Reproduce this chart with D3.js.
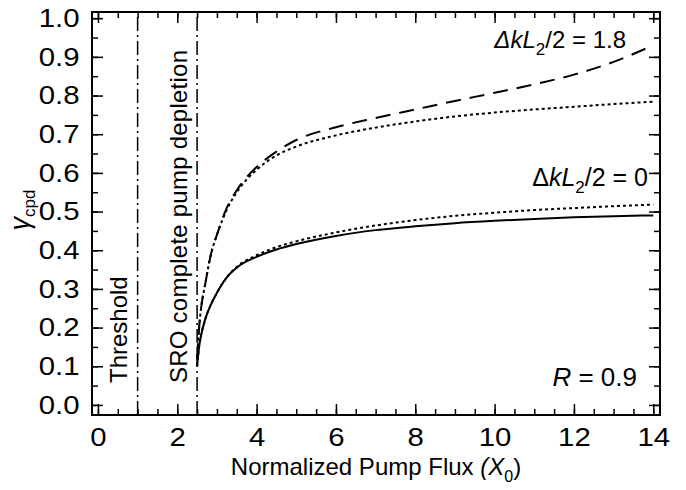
<!DOCTYPE html>
<html>
<head>
<meta charset="utf-8">
<script src="https://cdn.jsdelivr.net/npm/d3@7"></script>
<style>
  body { margin: 0; background: #fff; }
  svg { font-family: "Liberation Sans", Arial, sans-serif; }
</style>
</head>
<body>
<svg id="chart" width="686" height="490"></svg>
<script>
// pump flux values along each curve
const fluxX = [2.5, 2.55, 2.6, 2.7, 2.85, 3.0, 3.25, 3.5, 4, 4.5, 5, 6, 7, 8, 9, 10, 11, 12, 13, 14];
// dk = 0, full model (solid) and approximation (dotted)
const dk0Full   = [0.10, 0.15, 0.18, 0.22, 0.26, 0.29, 0.33, 0.355, 0.383, 0.402, 0.416, 0.437, 0.452, 0.462, 0.47, 0.476, 0.481, 0.485, 0.488, 0.49];
const dk0Approx = [0.10, 0.15, 0.18, 0.22, 0.26, 0.29, 0.33, 0.357, 0.387, 0.408, 0.423, 0.446, 0.464, 0.478, 0.489, 0.497, 0.504, 0.509, 0.514, 0.518];
// dk = 1.8, full model (dashed) and approximation (dotted)
const dk18Full   = [0.12, 0.2, 0.25, 0.31, 0.39, 0.44, 0.51, 0.555, 0.615, 0.655, 0.685, 0.718, 0.742, 0.764, 0.786, 0.807, 0.829, 0.854, 0.887, 0.93];
const dk18Approx = [0.12, 0.2, 0.25, 0.31, 0.39, 0.44, 0.505, 0.55, 0.608, 0.645, 0.668, 0.697, 0.717, 0.733, 0.746, 0.756, 0.764, 0.771, 0.778, 0.784];

const xMajor = [0, 2, 4, 6, 8, 10, 12, 14];
const xMinor = d3.range(0, 14.01, 0.5);
const yMajor = [0, 0.1, 0.2, 0.3, 0.4, 0.5, 0.6, 0.7, 0.8, 0.9, 1.0];
const yMinor = d3.range(0, 1.001, 0.05);
const markers = [1, 2.5]; // threshold, SRO complete pump depletion

const svg = d3.select("#chart");
const pLeft = 92, pRight = 660, pTop = 12, pBottom = 415;

const x = d3.scaleLinear().domain([-0.15, 14.17]).range([pLeft, pRight]);
const y = d3.scaleLinear().domain([-0.026, 1.016]).range([pBottom, pTop]);

// axes: ticks point inward on all four sides
function tickAxis(axisFn, scale, vals, size, pos, labels, pad) {
  const a = axisFn(scale).tickValues(vals).tickSize(-size).tickSizeOuter(0);
  if (!labels) a.tickFormat("");
  else a.tickFormat(labels).tickPadding(pad);
  const g = svg.append("g").attr("transform", pos).call(a);
  g.select(".domain").remove();
  g.selectAll("line").attr("stroke", "#000").attr("stroke-width", 1.5);
  // tick labels in the original are a little wider than Arial
  g.selectAll("text").attr("fill", "#000")
    .attr("transform", "scale(1.13,1)")
    .style("font-family", "'Liberation Sans', Arial, sans-serif")
    .style("font-size", "26px");
  return g;
}

tickAxis(d3.axisBottom, x, xMinor, 6, `translate(0,${pBottom})`);
tickAxis(d3.axisBottom, x, xMajor, 11, `translate(0,${pBottom})`, d3.format("d"), 13);
tickAxis(d3.axisTop, x, xMinor, 6, `translate(0,${pTop})`);
tickAxis(d3.axisTop, x, xMajor, 11, `translate(0,${pTop})`);
tickAxis(d3.axisLeft, y, yMinor, 6, `translate(${pLeft},0)`);
tickAxis(d3.axisLeft, y, yMajor, 11, `translate(${pLeft},0)`, d3.format(".1f"), 11);
tickAxis(d3.axisRight, y, yMinor, 6, `translate(${pRight},0)`);
tickAxis(d3.axisRight, y, yMajor, 11, `translate(${pRight},0)`);

svg.append("rect")
  .attr("x", pLeft).attr("y", pTop)
  .attr("width", pRight - pLeft).attr("height", pBottom - pTop)
  .attr("fill", "none").attr("stroke", "#000").attr("stroke-width", 2);

// vertical dash-dot markers
svg.selectAll(".marker")
  .data(markers)
  .join("line")
  .attr("class", "marker")
  .attr("x1", d => x(d)).attr("x2", d => x(d))
  .attr("y1", pBottom).attr("y2", pTop)
  .attr("stroke", "#000").attr("stroke-width", 1.5)
  .attr("stroke-dasharray", "14,4,2,4");

// curves
const line = d3.line()
  .x(d => x(d[0]))
  .y(d => y(d[1]))
  .curve(d3.curveMonotoneX);

const series = [
  {vals: dk0Full, dash: null},
  {vals: dk0Approx, dash: "3,3"},
  {vals: dk18Full, dash: "15,9"},
  {vals: dk18Approx, dash: "3,3"}
];

svg.selectAll(".curve")
  .data(series)
  .join("path")
  .attr("class", "curve")
  .attr("d", s => line(fluxX.map((v, i) => [v, s.vals[i]])))
  .attr("fill", "none")
  .attr("stroke", "#000")
  .attr("stroke-width", 2)
  .attr("stroke-dasharray", s => s.dash);

// rotated marker labels
svg.append("text")
  .attr("transform", `translate(127,383) rotate(-90)`)
  .style("font-size", "24px")
  .text("Threshold");

svg.append("text")
  .attr("transform", `translate(187,383) rotate(-90)`)
  .style("font-size", "24px")
  .attr("textLength", 333)
  .text("SRO complete pump depletion");

// curve annotations
function dkLabel(xPos, yPos, value, italicDelta, size) {
  const t = svg.append("text")
    .attr("x", xPos).attr("y", yPos)
    .attr("text-anchor", "end")
    .style("font-size", size + "px");
  t.append("tspan").style("font-style", italicDelta ? "italic" : "normal").text("\u0394");
  t.append("tspan").style("font-style", "italic").text("kL");
  t.append("tspan").attr("dy", 7).style("font-size", "17px").text("2");
  t.append("tspan").attr("dy", -7).text("/2 = " + value);
}
dkLabel(626, 48, "1.8", true, 24);
dkLabel(648, 186, "0", false, 25);

const rText = svg.append("text")
  .attr("x", 637).attr("y", 386)
  .attr("text-anchor", "end")
  .style("font-size", "26px");
rText.append("tspan").style("font-style", "italic").text("R");
rText.append("tspan").text(" = 0.9");

// axis titles
const xt = svg.append("text")
  .attr("x", 376).attr("y", 475)
  .attr("text-anchor", "middle")
  .style("font-size", "24px");
xt.append("tspan").text("Normalized Pump Flux ");
xt.append("tspan").style("font-style", "italic").text("(X");
xt.append("tspan").attr("dy", 7).style("font-size", "16px").text("0");
xt.append("tspan").attr("dy", -7).text(")");

const yt = svg.append("text")
  .attr("transform", `translate(29,210) rotate(-90)`)
  .attr("text-anchor", "middle")
  .style("font-size", "27px");
yt.append("tspan").style("font-style", "italic").text("\u03b3");
yt.append("tspan").attr("dy", 6).style("font-size", "17px").text("cpd");
</script>
</body>
</html>
